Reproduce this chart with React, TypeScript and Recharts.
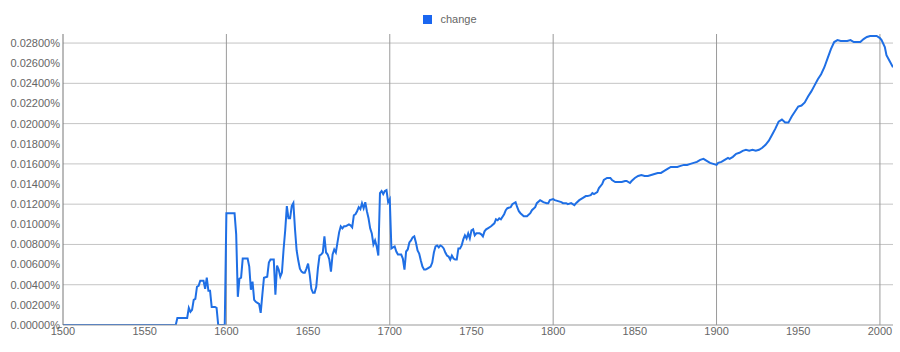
import { CartesianGrid, Legend, Line, LineChart, ReferenceLine, XAxis, YAxis } from "recharts";

// relative frequency of "change" (in %), Google Books Ngram, smoothed
const years = [
    1500, 1569, 1570, 1576, 1577, 1578, 1579, 1580, 1581, 1582, 1583, 1584, 1585, 1586, 1587, 1588, 1589, 1590,
    1591, 1592, 1593, 1594, 1595, 1599, 1600, 1605, 1606, 1607, 1608, 1609, 1610, 1613, 1614, 1615, 1616, 1617,
    1618, 1619, 1620, 1621, 1622, 1623, 1625, 1626, 1627, 1629, 1630, 1631, 1632, 1633, 1634, 1635, 1636, 1637,
    1638, 1639, 1640, 1641, 1642, 1643, 1644, 1645, 1646, 1647, 1648, 1649, 1650, 1651, 1652, 1653, 1654, 1655,
    1656, 1657, 1658, 1659, 1660, 1661, 1662, 1663, 1664, 1665, 1666, 1667, 1668, 1669, 1670, 1671, 1672, 1673,
    1674, 1675, 1676, 1677, 1678, 1679, 1680, 1681, 1682, 1683, 1684, 1685, 1686, 1687, 1688, 1689, 1690, 1691,
    1692, 1693, 1694, 1695, 1696, 1697, 1698, 1699, 1700, 1701, 1702, 1703, 1704, 1705, 1706, 1707, 1708, 1709,
    1710, 1711, 1712, 1713, 1714, 1715, 1716, 1717, 1718, 1719, 1720, 1721, 1722, 1723, 1724, 1725, 1726, 1727,
    1728, 1729, 1730, 1731, 1732, 1733, 1734, 1735, 1736, 1737, 1738, 1739, 1740, 1741, 1742, 1743, 1744, 1745,
    1746, 1747, 1748, 1749, 1750, 1751, 1752, 1753, 1754, 1755, 1756, 1757, 1758, 1759, 1760, 1762, 1764, 1765,
    1766, 1767, 1768, 1770, 1771, 1772, 1774, 1775, 1777, 1778, 1779, 1780, 1782, 1784, 1786, 1787, 1789, 1790,
    1792, 1793, 1794, 1796, 1797, 1798, 1800, 1801, 1803, 1805, 1806, 1808, 1809, 1811, 1813, 1814, 1816, 1818,
    1820, 1821, 1823, 1824, 1825, 1827, 1828, 1830, 1831, 1833, 1835, 1836, 1838, 1840, 1842, 1844, 1845, 1847,
    1848, 1850, 1852, 1854, 1856, 1858, 1860, 1862, 1864, 1866, 1868, 1870, 1872, 1874, 1876, 1878, 1880, 1882,
    1884, 1886, 1888, 1890, 1892, 1894, 1896, 1898, 1900, 1901, 1903, 1905, 1907, 1908, 1910, 1912, 1914, 1916,
    1918, 1920, 1922, 1924, 1926, 1928, 1930, 1932, 1934, 1936, 1938, 1940, 1942, 1944, 1946, 1948, 1950, 1952,
    1954, 1956, 1958, 1960, 1962, 1964, 1966, 1968, 1970, 1972, 1974, 1976, 1978, 1980, 1982, 1984, 1986, 1988,
    1990, 1992, 1994, 1996, 1998, 2000, 2001, 2003, 2004, 2006, 2008,
];

const freq = [
    0, 0, 0.0007, 0.0007, 0.0017, 0.0013, 0.0015, 0.0025, 0.0026, 0.0038, 0.0039, 0.0044, 0.0044, 0.0044, 0.0036,
    0.0047, 0.0034, 0.0034, 0.0018, 0.0018, 0.0018, 0.0017, 0, 0, 0.0111, 0.0111, 0.009, 0.0028, 0.0046, 0.0047,
    0.0066, 0.0066, 0.0058, 0.0035, 0.0043, 0.0025, 0.0023, 0.0022, 0.0021, 0.0012, 0.003, 0.0047, 0.0048, 0.0062,
    0.0065, 0.0065, 0.003, 0.0059, 0.0055, 0.0048, 0.0052, 0.0075, 0.0094, 0.0118, 0.0106, 0.0106, 0.0118, 0.0121,
    0.0095, 0.0074, 0.0064, 0.0056, 0.0053, 0.0052, 0.0052, 0.0056, 0.0061, 0.005, 0.0036, 0.0032, 0.0032, 0.0038,
    0.0056, 0.0069, 0.007, 0.0072, 0.0088, 0.0072, 0.007, 0.0065, 0.0053, 0.007, 0.0075, 0.0072, 0.0082, 0.0092,
    0.0098, 0.0096, 0.0098, 0.0098, 0.0099, 0.01, 0.0099, 0.0097, 0.0109, 0.011, 0.0113, 0.0117, 0.0115, 0.0121,
    0.0116, 0.0122, 0.0113, 0.0106, 0.0096, 0.0091, 0.008, 0.0084, 0.0078, 0.0069, 0.0131, 0.0133, 0.013, 0.0133,
    0.0134, 0.0122, 0.0125, 0.0076, 0.0077, 0.0078, 0.0073, 0.007, 0.007, 0.007, 0.0066, 0.0055, 0.0073, 0.0075,
    0.0082, 0.0084, 0.0087, 0.0088, 0.0082, 0.0074, 0.0071, 0.0064, 0.0058, 0.0055, 0.0055, 0.0056, 0.0057, 0.0058,
    0.0062, 0.0072, 0.0078, 0.0079, 0.0077, 0.0079, 0.0078, 0.0076, 0.0072, 0.0069, 0.0068, 0.0065, 0.0069, 0.0066,
    0.0065, 0.0065, 0.0076, 0.0076, 0.0079, 0.0085, 0.0089, 0.0086, 0.0091, 0.0086, 0.0094, 0.0095, 0.0089, 0.0091,
    0.0091, 0.0091, 0.009, 0.0088, 0.0093, 0.0095, 0.0096, 0.0098, 0.0101, 0.0105, 0.0104, 0.0106, 0.0105, 0.011,
    0.0114, 0.0116, 0.0117, 0.012, 0.0122, 0.0117, 0.0113, 0.0111, 0.0108, 0.0108, 0.0111, 0.0114, 0.0117, 0.0121,
    0.0124, 0.0123, 0.0122, 0.0121, 0.0121, 0.0124, 0.0125, 0.0124, 0.0123, 0.0122, 0.0121, 0.0121, 0.012, 0.0121,
    0.0119, 0.0121, 0.0124, 0.0126, 0.0128, 0.0128, 0.0129, 0.0131, 0.013, 0.0132, 0.0136, 0.014, 0.0144, 0.0146,
    0.0146, 0.0144, 0.0142, 0.0142, 0.0142, 0.0143, 0.0143, 0.0141, 0.0143, 0.0146, 0.0148, 0.0149, 0.0148, 0.0148,
    0.0149, 0.015, 0.0151, 0.0151, 0.0153, 0.0155, 0.0157, 0.0157, 0.0157, 0.0158, 0.0159, 0.0159, 0.016, 0.0161,
    0.0162, 0.0164, 0.0165, 0.0163, 0.0161, 0.016, 0.0159, 0.0161, 0.0162, 0.0164, 0.0166, 0.0165, 0.0167, 0.017,
    0.0171, 0.0173, 0.0174, 0.0173, 0.0174, 0.0173, 0.0174, 0.0176, 0.0179, 0.0183, 0.0189, 0.0195, 0.0202, 0.0204,
    0.0201, 0.0201, 0.0207, 0.0212, 0.0217, 0.0218, 0.0221, 0.0227, 0.0232, 0.0238, 0.0244, 0.0249, 0.0256, 0.0265,
    0.0274, 0.0281, 0.0283, 0.0282, 0.0282, 0.0282, 0.0283, 0.0281, 0.0281, 0.0281, 0.0284, 0.0286, 0.0287, 0.0287,
    0.0287, 0.0285, 0.0283, 0.0276, 0.0268, 0.0262, 0.0256,
];

const xTicks = [1500, 1550, 1600, 1650, 1700, 1750, 1800, 1850, 1900, 1950, 2000];
const yTicks = [0, 0.002, 0.004, 0.006, 0.008, 0.01, 0.012, 0.014, 0.016, 0.018, 0.02, 0.022, 0.024, 0.026, 0.028];
const hGrid = [0.004, 0.008, 0.012, 0.016, 0.02, 0.024, 0.028];
const vGrid = [1600, 1700, 1800, 1900, 2000];

const data = years.map((year, i) => ({ year, change: freq[i] }));

const FONT = "'Liberation Sans', Arial, Helvetica, sans-serif";
const TICK = { fill: "#666", fontSize: 11, fontFamily: FONT };
const BLUE = "#1f6fe5";

function LegendBox() {
    return (
        <div style={{ display: "flex", justifyContent: "center", alignItems: "center", fontFamily: FONT, fontSize: 11, color: "#666" }}>
            <span style={{ display: "inline-block", width: 9, height: 9, background: "#1a66f0", marginRight: 8 }} />
            <span>change</span>
        </div>
    );
}

export default function App() {
    return (
        <div style={{ position: "absolute", left: 0, top: 0, width: 900, height: 352, background: "#fff" }}>
            <LineChart width={900} height={352} data={data} margin={{ top: 34, right: 7, bottom: 0, left: 0 }}>
                <CartesianGrid horizontal={false} vertical={false} />
                <Legend
                    layout="horizontal"
                    verticalAlign="middle"
                    align="center"
                    content={() => <LegendBox />}
                    wrapperStyle={{ top: 13, left: 0, width: 900 }}
                />
                {hGrid.map((v) => (
                    <ReferenceLine key={"h" + v} y={v} stroke="#c4c4c4" strokeWidth={1} />
                ))}
                {vGrid.map((v) => (
                    <ReferenceLine key={"v" + v} x={v} stroke="#9a9a9a" strokeWidth={1} />
                ))}
                <XAxis
                    dataKey="year"
                    type="number"
                    domain={[1500, 2008]}
                    ticks={xTicks}
                    tick={TICK}
                    tickLine={false}
                    tickSize={0}
                    tickMargin={2}
                    height={27}
                    stroke="#999"
                    allowDataOverflow
                />
                <YAxis
                    type="number"
                    domain={[0, 0.0289]}
                    ticks={yTicks}
                    tick={TICK}
                    tickFormatter={(v: number) => v.toFixed(5) + "%"}
                    tickLine={false}
                    tickSize={0}
                    tickMargin={3}
                    width={63}
                    stroke="#777"
                    allowDataOverflow
                />
                <Line
                    type="linear"
                    dataKey="change"
                    stroke={BLUE}
                    strokeWidth={2}
                    dot={false}
                    isAnimationActive={false}
                />
            </LineChart>
        </div>
    );
}
